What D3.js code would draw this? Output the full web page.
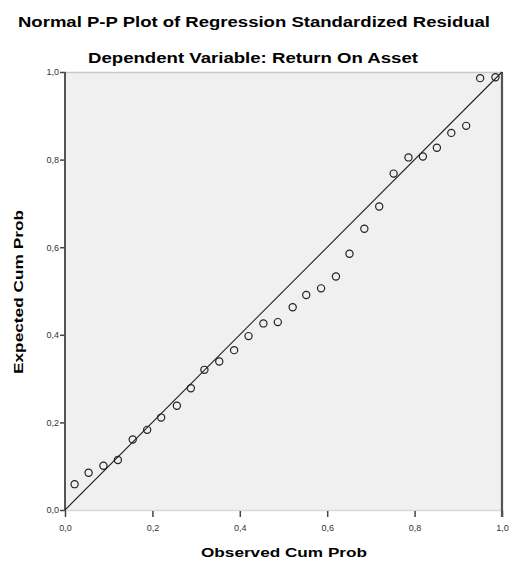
<!DOCTYPE html>
<html>
<head>
<meta charset="utf-8">
<script src="https://cdn.jsdelivr.net/npm/d3@7"></script>
<style>
  html, body { margin: 0; padding: 0; background: #fff; }
  svg { display: block; }
</style>
</head>
<body>
<svg id="chart" width="509" height="563"></svg>
<script>
// ---- Data ----
const observedCumProb = [0.022, 0.054, 0.088, 0.121, 0.155, 0.188, 0.220, 0.256, 0.288, 0.319,
                         0.353, 0.387, 0.420, 0.454, 0.487, 0.521, 0.552, 0.586, 0.620, 0.651,
                         0.685, 0.719, 0.752, 0.786, 0.819, 0.851, 0.884, 0.918, 0.950, 0.985];
const expectedCumProb = [0.059, 0.085, 0.101, 0.114, 0.161, 0.183, 0.211, 0.238, 0.278, 0.320,
                         0.339, 0.365, 0.397, 0.426, 0.429, 0.463, 0.491, 0.506, 0.533, 0.585,
                         0.642, 0.693, 0.768, 0.805, 0.807, 0.827, 0.861, 0.877, 0.986, 0.988];
const tickValues = [0, 0.2, 0.4, 0.6, 0.8, 1.0];
const tickLabels = ["0,0", "0,2", "0,4", "0,6", "0,8", "1,0"];
const titleText = "Normal P-P Plot of Regression Standardized Residual";
const subtitleText = "Dependent Variable: Return On Asset";
const xTitle = "Observed Cum Prob";
const yTitle = "Expected Cum Prob";

(function () {
// ---- Layout ----
const svg = d3.select("#chart");
const pLeft = 65, pRight = 502, pTop = 72, pBottom = 510;
const x = d3.scaleLinear().domain([0, 1]).range([pLeft, pRight]);
const y = d3.scaleLinear().domain([0, 1]).range([pBottom, pTop]);
const font = "'Liberation Sans', Arial, sans-serif";

// Plot background
svg.append("rect")
  .attr("x", pLeft).attr("y", pTop)
  .attr("width", pRight - pLeft).attr("height", pBottom - pTop)
  .attr("fill", "#f0f0f0");

// top & bottom light borders
svg.append("line").attr("x1", pLeft).attr("x2", pRight).attr("y1", pTop + 0.5).attr("y2", pTop + 0.5)
  .attr("stroke", "#c8c8c8").attr("stroke-width", 1.5);
svg.append("line").attr("x1", pLeft).attr("x2", pRight).attr("y1", pBottom + 0.5).attr("y2", pBottom + 0.5)
  .attr("stroke", "#d8d8d8").attr("stroke-width", 1.5);

// Axes
const xAxis = d3.axisBottom(x).tickValues(tickValues).tickFormat((d, i) => tickLabels[i])
  .tickSize(6).tickSizeOuter(0);
const yAxis = d3.axisLeft(y).tickValues(tickValues).tickFormat((d, i) => tickLabels[i])
  .tickSize(5).tickSizeOuter(0);

const gx = svg.append("g").attr("transform", `translate(0,${pBottom + 1})`).call(xAxis);
gx.select(".domain").remove();
gx.selectAll(".tick line").attr("stroke", "#444").attr("stroke-width", 1.5);
gx.selectAll(".tick text").attr("font-family", font).attr("font-size", 9)
  .attr("fill", "#333").attr("dy", "1.2em");

const gy = svg.append("g").attr("transform", `translate(${pLeft},0)`).call(yAxis);
gy.select(".domain").remove();
gy.selectAll(".tick line").attr("stroke", "#444").attr("stroke-width", 1.5);
gy.selectAll(".tick text").attr("font-family", font).attr("font-size", 9)
  .attr("fill", "#333").attr("x", -6);

// left & right dark frame lines
svg.append("line").attr("x1", pLeft).attr("x2", pLeft).attr("y1", pTop).attr("y2", pBottom + 1)
  .attr("stroke", "#555").attr("stroke-width", 2);
svg.append("line").attr("x1", pRight).attr("x2", pRight).attr("y1", pTop).attr("y2", pBottom + 7)
  .attr("stroke", "#555").attr("stroke-width", 2.2);

// Diagonal reference line
svg.append("line")
  .attr("x1", x(0)).attr("y1", y(0)).attr("x2", x(1)).attr("y2", y(1))
  .attr("stroke", "#222").attr("stroke-width", 1.1);

// Points
const pts = observedCumProb.map((v, i) => ({ o: v, e: expectedCumProb[i] }));
svg.append("g").selectAll("circle").data(pts).join("circle")
  .attr("cx", d => x(d.o)).attr("cy", d => y(d.e)).attr("r", 3.6)
  .attr("fill", "none").attr("stroke", "#222").attr("stroke-width", 1.2);

// Titles
svg.append("text").attr("x", 254).attr("y", 27).attr("text-anchor", "middle")
  .attr("font-family", font).attr("font-weight", "bold").attr("font-size", 14)
  .attr("textLength", 472).attr("lengthAdjust", "spacingAndGlyphs")
  .text(titleText);
svg.append("text").attr("x", 253).attr("y", 63).attr("text-anchor", "middle")
  .attr("font-family", font).attr("font-weight", "bold").attr("font-size", 14)
  .attr("textLength", 330).attr("lengthAdjust", "spacingAndGlyphs")
  .text(subtitleText);
svg.append("text").attr("x", 284).attr("y", 557).attr("text-anchor", "middle")
  .attr("font-family", font).attr("font-weight", "bold").attr("font-size", 13)
  .attr("textLength", 166).attr("lengthAdjust", "spacingAndGlyphs")
  .text(xTitle);
svg.append("text").attr("transform", "translate(23,292) rotate(-90)").attr("text-anchor", "middle")
  .attr("font-family", font).attr("font-weight", "bold").attr("font-size", 13)
  .attr("textLength", 164).attr("lengthAdjust", "spacingAndGlyphs")
  .text(yTitle);
})();
</script>
</body>
</html>
